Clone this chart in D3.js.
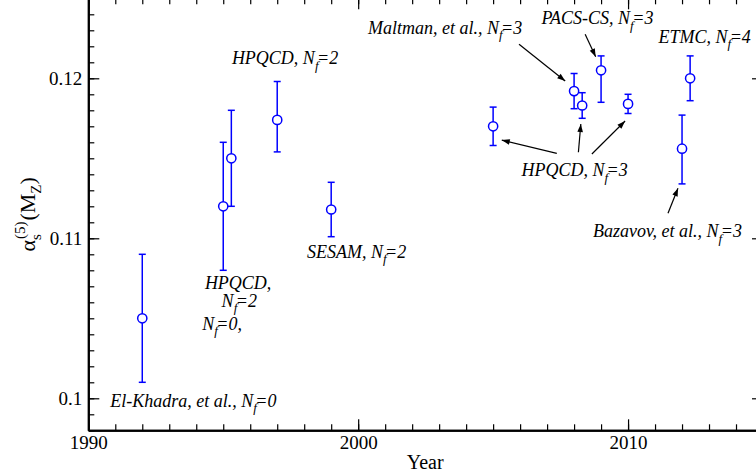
<!DOCTYPE html>
<html>
<head>
<meta charset="utf-8">
<script src="https://cdn.jsdelivr.net/npm/d3@7"></script>
<style>
  html, body { margin: 0; padding: 0; background: #fff; }
  svg { display: block; }
</style>
</head>
<body>
<div id="chart"></div>
<script>
// measured values: year, alpha_s(M_Z) and the (upper, lower) error
var years    = [1992.0, 1995.0, 1995.3, 1997.0, 1999.0, 2005.0, 2008.0, 2008.3, 2009.0, 2010.0, 2012.0, 2012.3];
var alphaS   = [0.1050, 0.1120, 0.1150, 0.1174, 0.1118, 0.1170, 0.1192, 0.1183, 0.1205, 0.1184, 0.1156, 0.1200];
var errUp    = [0.0040, 0.0040, 0.0030, 0.0024, 0.0017, 0.0012, 0.0011, 0.0008, 0.0009, 0.0006, 0.0021, 0.0014];
var errDown  = [0.0040, 0.0040, 0.0030, 0.0020, 0.0017, 0.0012, 0.0011, 0.0008, 0.0020, 0.0006, 0.0022, 0.0014];

var xTicks = [1990, 2000, 2010];
var yTicks = [0.10, 0.11, 0.12];

// annotation text, anchored at (year, value) of its left baseline
var noteText  = ["HPQCD, N_f=2", "Maltman, et al., N_f=3", "PACS-CS, N_f=3", "ETMC, N_f=4",
                 "HPQCD, N_f=3", "Bazavov, et al., N_f=3", "SESAM, N_f=2", "HPQCD,", "N_f=2",
                 "N_f=0,", "El-Khadra, et al., N_f=0"];
var noteYear  = [1995.32, 2000.36, 2006.79, 2011.13, 2006.05, 2008.70, 1998.10, 1994.32, 1994.94, 1994.22, 1990.81];
var noteValue = [0.12089, 0.12280, 0.12339, 0.12221, 0.11389, 0.11006, 0.10879, 0.10683, 0.10573, 0.10427, 0.09948];

// arrows: [year0, value0, year1, value1]
var arrows = [
    [2005.96, 0.12213, 2007.67, 0.11983],
    [2008.41, 0.12275, 2008.80, 0.12135],
    [2007.36, 0.11531, 2005.32, 0.11614],
    [2008.16, 0.11538, 2008.25, 0.11714],
    [2008.66, 0.11527, 2009.89, 0.11733],
    [2011.48, 0.11156, 2011.85, 0.11313]
];

var w = 756, h = 476,
    padL = 88.3, padR = 763,
    padT = -1.7, padB = 430.3,
    blue = "#0000ff",
    serif = "'Liberation Serif', 'Times New Roman', serif";

var x = d3.scaleLinear().domain([1990, 2015]).range([padL, padR]);
var y = d3.scaleLinear().domain([0.098, 0.125]).range([padB, padT]);

var svg = d3.select("#chart").append("svg")
    .attr("width", w)
    .attr("height", h)
    .attr("font-family", serif);

svg.append("defs").append("marker")
    .attr("id", "head")
    .attr("markerUnits", "userSpaceOnUse")
    .attr("viewBox", "0 0 10 10")
    .attr("refX", 10).attr("refY", 5)
    .attr("markerWidth", 10).attr("markerHeight", 8)
    .attr("orient", "auto")
    .append("path")
    .attr("d", "M0,1.5 L10,5 L0,8.5 Z")
    .attr("fill", "#000");

var yearMinor = d3.range(1990, 2016, 1);
var valMinor = d3.range(98, 126, 1).map(function (d) { return d / 1000; });
var fmtY = function (d) { return String(+d.toFixed(3)); };

function addAxis(gen, tx, ty) {
    var g = svg.append("g")
        .attr("transform", "translate(" + tx + "," + ty + ")")
        .call(gen)
        .attr("font-family", serif)
        .attr("font-size", 19);
    g.select(".domain").attr("stroke", "#000").attr("stroke-width", 2);
    g.selectAll(".tick line").attr("stroke", "#000").attr("stroke-width", 1.2);
    g.selectAll("text").attr("fill", "#000").attr("font-family", serif);
    return g;
}

// minor ticks first, then majors
addAxis(d3.axisBottom(x).tickValues(yearMinor).tickSizeInner(-6).tickSizeOuter(0).tickFormat(""), 0, padB);
addAxis(d3.axisTop(x).tickValues(yearMinor).tickSizeInner(-6).tickSizeOuter(0).tickFormat(""), 0, padT);
addAxis(d3.axisLeft(y).tickValues(valMinor).tickSizeInner(-6).tickSizeOuter(0).tickFormat(""), padL, 0);
addAxis(d3.axisRight(y).tickValues(valMinor).tickSizeInner(-6).tickSizeOuter(0).tickFormat(""), padR, 0);

addAxis(d3.axisBottom(x).tickValues(xTicks).tickSizeInner(-11).tickSizeOuter(0).tickPadding(5).tickFormat(d3.format("d")), 0, padB);
addAxis(d3.axisTop(x).tickValues(xTicks).tickSizeInner(-11).tickSizeOuter(0).tickFormat(""), 0, padT);
addAxis(d3.axisLeft(y).tickValues(yTicks).tickSizeInner(-11).tickSizeOuter(0).tickPadding(6).tickFormat(fmtY), padL, 0);
addAxis(d3.axisRight(y).tickValues(yTicks).tickSizeInner(-11).tickSizeOuter(0).tickFormat(""), padR, 0);

// axis titles
svg.append("text")
    .attr("x", (padL + padR) / 2 - 0.5)
    .attr("y", 469)
    .attr("text-anchor", "middle")
    .attr("font-size", 20)
    .text("Year");

var yl = svg.append("text")
    .attr("transform", "translate(35," + ((padT + padB) / 2) + ") rotate(-90)")
    .attr("text-anchor", "middle")
    .attr("font-size", 22);
yl.append("tspan").text("\u03b1");
yl.append("tspan").attr("font-size", 15).attr("dy", 6).text("s");
yl.append("tspan").attr("font-size", 15).attr("dx", -5).attr("dy", -16).text("(5)");
yl.append("tspan").attr("dy", 10).attr("dx", 1).text("(M");
yl.append("tspan").attr("font-size", 15).attr("dy", 6).text("Z");
yl.append("tspan").attr("dy", -6).text(")");

// error bars and markers
var pts = years.map(function (d, i) {
    return { year: d, val: alphaS[i], hi: alphaS[i] + errUp[i], lo: alphaS[i] - errDown[i] };
});

var bars = svg.append("g").attr("class", "errGrp")
    .attr("stroke", blue).attr("stroke-width", 1.5).attr("fill", "none");
bars.selectAll("line.v").data(pts).enter().append("line")
    .attr("class", "v")
    .attr("x1", function (d) { return x(d.year); })
    .attr("x2", function (d) { return x(d.year); })
    .attr("y1", function (d) { return y(d.hi); })
    .attr("y2", function (d) { return y(d.lo); });
bars.selectAll("line.cap").data(pts.concat(pts)).enter().append("line")
    .attr("class", "cap")
    .attr("x1", function (d) { return x(d.year) - 3.5; })
    .attr("x2", function (d) { return x(d.year) + 3.5; })
    .attr("y1", function (d, i) { return i < pts.length ? y(d.hi) : y(d.lo); })
    .attr("y2", function (d, i) { return i < pts.length ? y(d.hi) : y(d.lo); });

svg.append("g").selectAll("circle").data(pts).enter().append("circle")
    .attr("cx", function (d) { return x(d.year); })
    .attr("cy", function (d) { return y(d.val); })
    .attr("r", 4.6)
    .attr("fill", "#fff")
    .attr("stroke", blue)
    .attr("stroke-width", 1.5);

// arrows
svg.append("g").selectAll("line").data(arrows).enter().append("line")
    .attr("x1", function (d) { return x(d[0]); })
    .attr("y1", function (d) { return y(d[1]); })
    .attr("x2", function (d) { return x(d[2]); })
    .attr("y2", function (d) { return y(d[3]); })
    .attr("stroke", "#000")
    .attr("stroke-width", 1.2)
    .attr("marker-end", "url(#head)");

// annotation labels, "_f" becomes a subscript
var notes = svg.append("g").attr("font-size", 18).attr("font-style", "italic");
noteText.forEach(function (s, i) {
    var t = notes.append("text")
        .attr("x", x(noteYear[i]))
        .attr("y", y(noteValue[i]));
    var parts = s.split("_f");
    t.append("tspan").text(parts[0]);
    if (parts.length > 1) {
        t.append("tspan").attr("font-size", 13).attr("dy", 5.5).text("f");
        t.append("tspan").attr("dy", -5.5).attr("dx", -1.5).text(parts[1]);
    }
});
</script>
</body>
</html>
